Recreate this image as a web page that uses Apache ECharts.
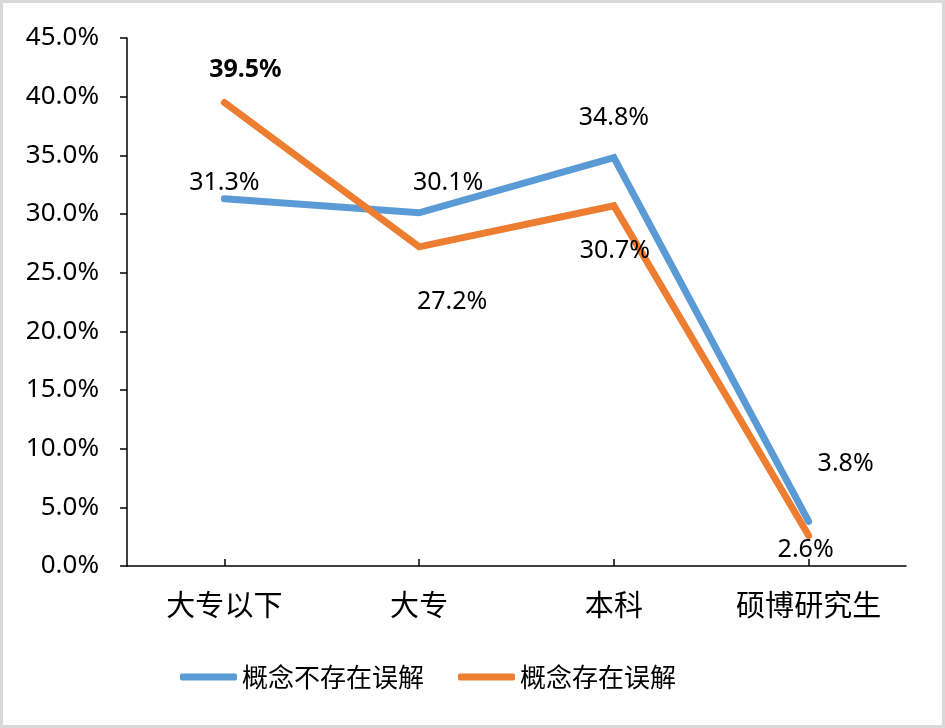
<!DOCTYPE html>
<html><head><meta charset="utf-8">
<script src="https://cdn.jsdelivr.net/npm/echarts@6/dist/echarts.min.js"></script>
<style>
html,body{margin:0;padding:0;background:#fff;}
#c{position:absolute;left:0;top:0;width:945px;height:728px;}
#b{position:absolute;left:0;top:0;width:945px;height:728px;box-sizing:border-box;border:3px solid #d9d9d9;pointer-events:none;}
</style></head>
<body><div id="c"></div><div id="b"></div>
<script>
const categories = ['大专以下', '大专', '本科', '硕博研究生'];
const seriesNames = ['概念不存在误解', '概念存在误解'];
const blueValues = [31.3, 30.1, 34.8, 3.8];
const orangeValues = [39.5, 27.2, 30.7, 2.6];
const yTicks = {min: 0, max: 45, interval: 5};

const numFont = '"Noto Sans", "Open Sans", sans-serif';
const cjkFont = '"Noto Sans CJK SC", sans-serif';

const blueLabelOffsets = [[0, 2], [29, -12], [0, -22], [37, -40]];
const orangeLabelOffsets = [[21, -15], [33, 38], [1, 28], [-3, -3]];
const orangeBold = [true, false, false, false];

function mkData(vals, offs, pos, bold) {
  return vals.map((v, i) => ({
    value: v,
    label: {position: pos[i], offset: offs[i], fontWeight: bold && bold[i] ? 'bold' : 'normal'}
  }));
}

const chart = echarts.init(document.getElementById('c'), null, {renderer: 'canvas'});
chart.setOption({
  animation: false,
  grid: {left: 127, right: 39, top: 38, bottom: 162, containLabel: false},
  legend: {
    left: 175, top: 659,
    itemWidth: 57, itemHeight: 7, itemGap: 34,
    icon: 'roundRect',
    textStyle: {fontFamily: cjkFont, fontSize: 26, color: '#000', padding: [0, 0, 0, 0]},
    data: seriesNames
  },
  xAxis: {
    type: 'category',
    data: categories,
    boundaryGap: true,
    axisLine: {lineStyle: {color: '#000', width: 1.5}},
    axisTick: {show: true, alignWithLabel: true, inside: true, length: 7, lineStyle: {color: '#000', width: 1.5}},
    axisLabel: {fontFamily: cjkFont, fontSize: 29, color: '#000', margin: 24},
    splitLine: {show: false}
  },
  yAxis: {
    type: 'value',
    min: yTicks.min, max: yTicks.max, interval: yTicks.interval,
    axisLine: {show: true, lineStyle: {color: '#000', width: 1.5}},
    axisTick: {show: true, length: 7, lineStyle: {color: '#000', width: 1.5}},
    axisLabel: {fontFamily: numFont, fontSize: 26, color: '#000', margin: 28,
      formatter: v => v.toFixed(1) + '%'},
    splitLine: {show: false}
  },
  series: [
    {
      name: seriesNames[0], type: 'line', symbol: 'circle', symbolSize: 0, showSymbol: true,
      lineStyle: {color: '#5b9bd5', width: 7, cap: 'round', join: 'miter'},
      itemStyle: {color: '#5b9bd5'},
      label: {show: true, fontFamily: numFont, fontSize: 25, color: '#000', formatter: p => p.value.toFixed(1) + '%'},
      data: mkData(blueValues, blueLabelOffsets, ['top', 'top', 'top', 'top'])
    },
    {
      name: seriesNames[1], type: 'line', symbol: 'circle', symbolSize: 0, showSymbol: true,
      lineStyle: {color: '#ed7d31', width: 7, cap: 'round', join: 'miter'},
      itemStyle: {color: '#ed7d31'},
      label: {show: true, fontFamily: numFont, fontSize: 25, color: '#000', formatter: p => p.value.toFixed(1) + '%'},
      data: mkData(orangeValues, orangeLabelOffsets, ['top', 'bottom', 'bottom', 'bottom'], orangeBold)
    }
  ]
});
</script></body></html>
